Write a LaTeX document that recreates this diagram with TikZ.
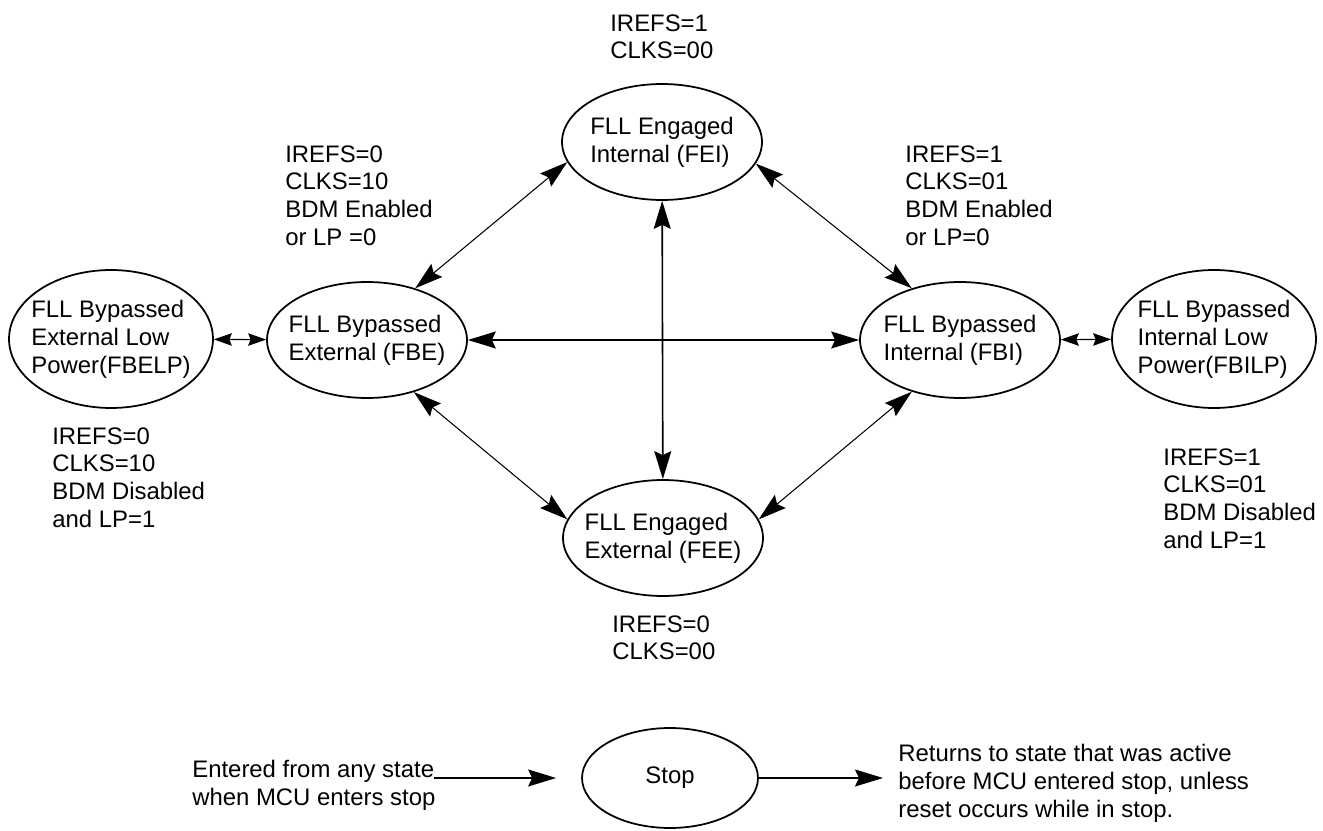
\documentclass[tikz,border=0pt]{standalone}
\usepackage{fontspec}
\setmainfont{Liberation Sans}
\usetikzlibrary{arrows.meta,shapes.geometric}

\begin{document}
\begin{tikzpicture}[x=0.02cm,y=-0.02cm]
\tikzset{stnode/.style = {ellipse, draw=black, line width=1pt, inner sep=0pt, inner xsep=-0.25cm,
    minimum width=4cm, minimum height=2.32cm, align=left, font=\fontsize{13.6}{15.9}\selectfont}}
\tikzset{lpnode/.style = {stnode, minimum width=4.08cm, minimum height=2.76cm}}
\tikzset{cfglabel/.style = {anchor=north west, inner sep=0pt, align=left, font=\fontsize{13.6}{15.9}\selectfont}}
\tikzset{dblarr/.style = {>={Stealth[length=0.56cm,width=0.34cm,inset=0.08cm]}, <->}}
\tikzset{smallarr/.style = {>={Stealth[length=0.36cm,width=0.25cm,inset=0.05cm]}, <->}}
\tikzset{onearr/.style = {-{Stealth[length=0.56cm,width=0.34cm,inset=0.08cm]}, line width=1pt}}
\useasboundingbox (0,0) rectangle (1323,831);

    % states
    \node[stnode] (fei) at (662,142) {FLL Engaged\\Internal (FEI)};
    \node[stnode] (fbe) at (367,340) {FLL Bypassed\\External (FBE)};
    \node[stnode] (fbi) at (960,340) {FLL Bypassed\\Internal (FBI)};
    \node[stnode] (fee) at (663,538) {FLL Engaged\\External (FEE)};
    \node[lpnode] (fbelp) at (111,339) {FLL Bypassed\\External Low\\Power(FBELP)};
    \node[lpnode] (fbilp) at (1214,339) {FLL Bypassed\\Internal Low\\Power(FBILP)};
    \node[stnode, minimum width=3.52cm, minimum height=2cm] (stp) at (670,778) {Stop};

    % settings
    \node[cfglabel] (lfei) at (610,14) {IREFS=1\\CLKS=00};
    \node[cfglabel] (lfbe) at (285,145) {IREFS=0\\CLKS=10\\BDM Enabled\\or LP =0};
    \node[cfglabel] (lfbi) at (905,145) {IREFS=1\\CLKS=01\\BDM Enabled\\or LP=0};
    \node[cfglabel] (lfbelp) at (52,427) {IREFS=0\\CLKS=10\\BDM Disabled\\and LP=1};
    \node[cfglabel] (lfbilp) at (1163,448) {IREFS=1\\CLKS=01\\BDM Disabled\\and LP=1};
    \node[cfglabel] (lfee) at (612,615) {IREFS=0\\CLKS=00};
    \node[cfglabel] (lin) at (192,760) {Entered from any state\\when MCU enters stop};
    \node[cfglabel] (lout) at (898,744) {Returns to state that was active\\before MCU entered stop, unless\\reset occurs while in stop.};

    % transitions
    \draw[dblarr, line width=0.6pt] (fbe.47) -- (fei.192.6);
    \draw[dblarr, line width=0.6pt] (fei.347.4) -- (fbi.133.3);
    \draw[dblarr, line width=0.6pt] (fbe.312.2) -- (fee.169);
    \draw[dblarr, line width=0.6pt] (fee.11) -- (fbi.227.8);
    \draw[dblarr, line width=0.9pt] (fbe) -- (fbi);
    \draw[dblarr, line width=0.9pt] (fei) -- (fee);
    \draw[smallarr, line width=0.6pt] (fbelp) -- (fbe);
    \draw[smallarr, line width=0.6pt] (fbi) -- (fbilp);

    \coordinate (inend) at (434,778);
    \coordinate (outend) at (883,778);
    \draw[onearr, shorten >=0.5cm] (inend) -- (stp);
    \draw[onearr] (stp) -- (outend);
\end{tikzpicture}
\end{document}
